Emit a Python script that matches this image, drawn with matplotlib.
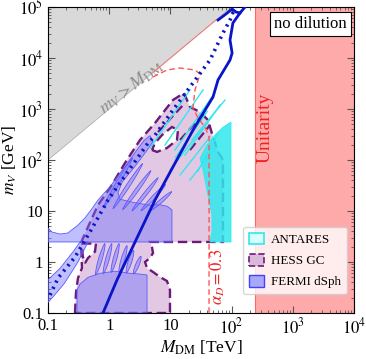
import numpy as np
import matplotlib
matplotlib.use("Agg")
import matplotlib.pyplot as plt
from matplotlib.patches import Polygon, Patch
from matplotlib.ticker import FixedLocator, FixedFormatter, LogLocator, NullFormatter

plt.rcParams['font.family'] = ['Liberation Serif', 'DejaVu Serif']
plt.rcParams['mathtext.fontset'] = 'stix'

# M_DM in TeV, m_V in GeV
# --- FERMI dSph (blue) ---
fermi_up_M = [0.1, 0.1, 0.116, 0.157, 0.212, 0.309, 0.402, 0.505, 0.656, 1.03, 1.65, 2.64, 3.68, 4.64, 5.2, 4.4, 2.64, 1.65, 1.39, 1.5, 2.64, 4.64, 6.76, 9.0, 10.6, 10.6]
fermi_up_m = [2.47, 4.64, 3.87, 3.54, 3.71, 5.31, 7.3, 10.5, 16.4, 30.0, 63.7, 140, 240, 300, 230, 170, 75, 38, 23, 17, 14.5, 13.0, 13.3, 12.3, 10.5, 2.47]

fermi_band_M = [0.1, 0.157, 0.258, 0.334, 0.451, 0.309, 0.185, 0.128, 0.1]
fermi_band_m = [0.45, 0.75, 1.6, 2.47, 2.47, 1.0, 0.38, 0.225, 0.16]

fermi_low_M = [0.298, 0.298, 0.334, 0.451, 0.707, 1.24, 2.19, 3.19, 4.15, 4.15]
fermi_low_m = [0.1, 0.282, 0.37, 0.5, 0.6, 0.66, 0.6, 0.58, 0.556, 0.1]

# fingers: base point -> tip point
finger_base_M = [0.8, 1.15, 1.65, 2.35, 3.3, 4.6, 0.6, 0.8, 1.08, 1.45, 1.9, 2.5]
finger_base_m = [11.5, 11.0, 10.5, 10.0, 10.0, 10.0, 0.55, 0.58, 0.62, 0.62, 0.6, 0.58]
finger_tip_M = [2.4, 3.5, 4.8, 6.3, 8.3, 10.5, 0.85, 1.1, 1.45, 1.95, 2.5, 3.3]
finger_tip_m = [110, 85, 62, 45, 33, 24, 2.3, 2.3, 2.3, 2.1, 1.7, 1.3]

# --- HESS GC (pink) ---
hess_M = [0.276, 0.287, 0.309, 0.359, 0.346, 0.524, 0.656, 1.03, 1.81, 3.19, 5.6, 11.0, 16.7, 20.9, 30.5, 41.1,
          49.7, 60.0, 72.3, 72.3, 4.64, 5.0, 5.2, 4.64, 3.85, 4.15, 5.2, 6.76, 8.79, 9.84, 9.84]
hess_m = [0.1, 0.258, 0.485, 0.762, 2.4, 7.3, 13.1, 28.2, 87.3, 247, 531, 1500, 2060, 1095, 873, 608,
          283, 144, 100, 2.47, 2.47, 1.97, 1.5, 1.2, 1.0, 0.762, 0.637, 0.508, 0.424, 0.282, 0.1]
hole1_M = [5.0, 6.04, 8.79, 12.8, 13.3, 10.6, 7.3, 5.6]
hole1_m = [157, 144, 172, 247, 387, 444, 309, 215]
hole2_M = [0.359, 0.608, 0.586, 0.451, 0.402, 0.37]
hole2_m = [2.3, 2.3, 1.6, 1.2, 0.95, 1.3]
hess_stripe_M0 = [6.27, 14.4, 20.9]
hess_stripe_m0 = [354, 247, 157]
hess_stripe_M1 = [17.3, 36.7, 44.4]
hess_stripe_m1 = [1310, 873, 486]

# --- ANTARES (cyan) ---
ant_M = [44.4, 47.8, 47.8, 41.1, 34.1, 30.5, 39.6, 53.5, 69.7, 97.7, 97.7]
ant_m = [2.47, 3.87, 8.36, 20.6, 63.7, 109, 197, 309, 424, 556, 2.47]
streak_M0 = [8.16, 11.9, 17.3, 4.64, 22.5, 14.4, 20.9, 9.84, 28.0, 12.0]
streak_m0 = [197, 157, 125, 172, 247, 50.8, 40.6, 63.7, 60.0, 110]
streak_M1 = [34.1, 47.8, 64.6, 20.9, 78.0, 44.4, 53.5, 36.7, 60.0, 40.0]
streak_m1 = [2360, 1720, 1197, 2360, 1500, 283, 172, 486, 330, 900]

# --- curves ---
dotted_M = [0.108, 0.146, 0.276, 0.505, 0.955, 1.95, 4.30, 5.2, 11.0, 23.4, 44.4, 72.3, 94.2, 114]
dotted_m = [0.225, 0.485, 1.25, 4.24, 16.4, 55.6, 215, 270, 955, 3240, 9140, 30900, 55600, 1e5]
solid_M = [0.792, 1.34, 5.60, 23.4, 49.7, 60.0, 94.2, 102, 94.2, 105, 137, 166]
solid_m = [0.1, 0.444, 16.4, 387, 1720, 3710, 9140, 12500, 22500, 48500, 76300, 1e5]
solid2_M = [60.0, 80.9, 102, 118, 137]
solid2_m = [55600, 72900, 91400, 79800, 76300]

alpha_M = [5.2, 8.79, 14.4, 25.2, 30.5, 25.2, 23.4, 28.2, 36.7, 42.8, 42.8]
alpha_m = [4240, 5820, 6370, 5820, 4850, 2360, 1047, 667, 444, 283, 0.1]
edge_M = [5.2, 55.6]

unitarity_M = 241

fig = plt.figure(figsize=(3.66, 3.59), dpi=100)
ax = fig.add_axes([48/366, 46/359, 306/366, 306/359])
ax.set_xscale('log')
ax.set_yscale('log')
ax.set_xlim(0.1, 1e4)
ax.set_ylim(0.1, 1e5)


def poly(M, m, **kw):
    ax.add_patch(Polygon(np.column_stack([M, m]), closed=True, **kw))


def finger(b, t, w, **kw):
    x0, y0 = np.log10(b)
    x1, y1 = np.log10(t)
    s = np.linspace(0, 1, 25)
    L = np.hypot(x1 - x0, y1 - y0)
    nx, ny = -(y1 - y0) / L, (x1 - x0) / L
    h = w * np.sin(np.pi * s) ** 0.6
    xs = x0 + s * (x1 - x0)
    ys = y0 + s * (y1 - y0)
    px = np.concatenate([xs + h * nx, (xs - h * nx)[::-1]])
    py = np.concatenate([ys + h * ny, (ys - h * ny)[::-1]])
    poly(10 ** px, 10 ** py, **kw)


# gray excluded region m_V > M_DM
poly([0.1, 100, 0.1], [100, 1e5, 1e5], facecolor='#d9d9d9', edgecolor='#b0b0b0', lw=0.6, zorder=1)
ax.text(2.3, 2700, r'$m_V > M_{\rm DM}$', color='#8c8c8c', fontsize=13, rotation=38,
        ha='center', va='center', zorder=2)

# unitarity
ax.axvspan(unitarity_M, 1e4, facecolor='#ffaaaa', edgecolor='#ff6666', lw=0.8, zorder=1)
ax.text(350, 420, 'Unitarity', color='#ee2222', fontsize=14, rotation=90, ha='center', va='center', zorder=2)

# HESS
pink_fc = '#e2c8e2'
purple = '#6b1a7a'
poly(hess_M, hess_m, facecolor=pink_fc, edgecolor=purple, lw=1.7, ls=(0, (4, 2)), zorder=2)
poly(hole1_M, hole1_m, facecolor='white', edgecolor=purple, lw=1.7, ls=(0, (4, 2)), zorder=2.1)
poly(hole2_M, hole2_m, facecolor='white', edgecolor=purple, lw=1.7, ls=(0, (4, 2)), zorder=2.1)
for i in range(len(hess_stripe_M0)):
    ax.plot([hess_stripe_M0[i], hess_stripe_M1[i]], [hess_stripe_m0[i], hess_stripe_m1[i]],
            color=purple, lw=1.6, ls=(0, (4, 2)), zorder=2.2)

# FERMI
blue_fc = (0.45, 0.45, 1.0, 0.45)
blue_ec = '#5a5aff'
poly(fermi_up_M, fermi_up_m, facecolor=blue_fc, edgecolor=blue_ec, lw=0.6, zorder=3)
poly(fermi_band_M, fermi_band_m, facecolor=blue_fc, edgecolor=blue_ec, lw=0.6, zorder=3)
poly(fermi_low_M, fermi_low_m, facecolor=blue_fc, edgecolor=blue_ec, lw=0.6, zorder=3)
for i in range(len(finger_base_M)):
    finger((finger_base_M[i], finger_base_m[i]), (finger_tip_M[i], finger_tip_m[i]), 0.03,
           facecolor=blue_fc, edgecolor=blue_ec, lw=0.6, zorder=3)

# ANTARES
cyan = '#30e8ee'
poly(ant_M, ant_m, facecolor=(0.19, 0.91, 0.93, 0.85), edgecolor=cyan, lw=0.6, zorder=4)
for i in range(len(streak_M0)):
    ax.plot([streak_M0[i], streak_M1[i]], [streak_m0[i], streak_m1[i]], color=cyan, lw=1.0, zorder=4)

# alpha_D = 0.3 contour
ax.plot(alpha_M, alpha_m, color='#ff5555', lw=1.0, ls=(0, (4, 2.5)), zorder=5)
ax.plot(edge_M, [1000 * v for v in edge_M], color='#ff7777', lw=0.7, zorder=5)
ax.text(60, 0.5, r'$\alpha_D = 0.3$', color='#ee2222', fontsize=12, rotation=90, ha='center', va='center', zorder=6)

# blue curves
ax.plot(dotted_M, dotted_m, color='#0a14c8', lw=2.6, ls=(0, (0.6, 1.3)), zorder=6)
ax.plot(solid_M, solid_m, color='#0a14c8', lw=2.0, zorder=6)
ax.plot(solid2_M, solid2_m, color='#0a14c8', lw=2.0, zorder=6)

# no dilution box
ax.text(0.975, 0.97, 'no dilution', transform=ax.transAxes, ha='right', va='top', fontsize=12, zorder=7,
        bbox=dict(boxstyle='square,pad=0.25', facecolor='white', edgecolor='black', lw=0.8))

# legend
handles = [
    Patch(facecolor='#d8ffff', edgecolor='#30e8ee', lw=1.2, label='ANTARES'),
    Patch(facecolor='#d9b8d9', edgecolor=purple, lw=1.2, ls='--', label='HESS GC'),
    Patch(facecolor='#a8a8f8', edgecolor='#4040ff', lw=1.0, label='FERMI dSph'),
]
leg = ax.legend(handles=handles, loc='lower right', bbox_to_anchor=(0.998, 0.04), fontsize=9.4,
                handlelength=1.2, handleheight=1.0, labelspacing=0.6, borderpad=0.45,
                handletextpad=0.5, framealpha=0.8)
leg.set_zorder(8)

# ticks
xt = [0.1, 1, 10, 100, 1e3, 1e4]
ax.xaxis.set_major_locator(FixedLocator(xt))
ax.xaxis.set_major_formatter(FixedFormatter(['0.1', '1', '10', r'$10^2$', r'$10^3$', r'$10^4$']))
yt = [0.1, 1, 10, 100, 1e3, 1e4, 1e5]
ax.yaxis.set_major_locator(FixedLocator(yt))
ax.yaxis.set_major_formatter(FixedFormatter(['0.1', '1', '10', r'$10^2$', r'$10^3$', r'$10^4$', r'$10^5$']))
for a in (ax.xaxis, ax.yaxis):
    a.set_minor_locator(LogLocator(base=10, subs=np.arange(2, 10), numticks=20))
    a.set_minor_formatter(NullFormatter())
ax.tick_params(which='both', direction='in', top=True, right=True, labelsize=12, color='#555555')
ax.tick_params(which='major', length=5)
ax.tick_params(which='minor', length=2.5)

ax.set_xlabel(r'$M_{\rm DM}$ [TeV]', fontsize=12.5)
ax.xaxis.set_label_coords(0.5, -0.085)
ax.set_ylabel(r'$m_V$ [GeV]', fontsize=12.5)
ax.yaxis.set_label_coords(-0.095, 0.5)

fig.savefig('out.png', dpi=100)
